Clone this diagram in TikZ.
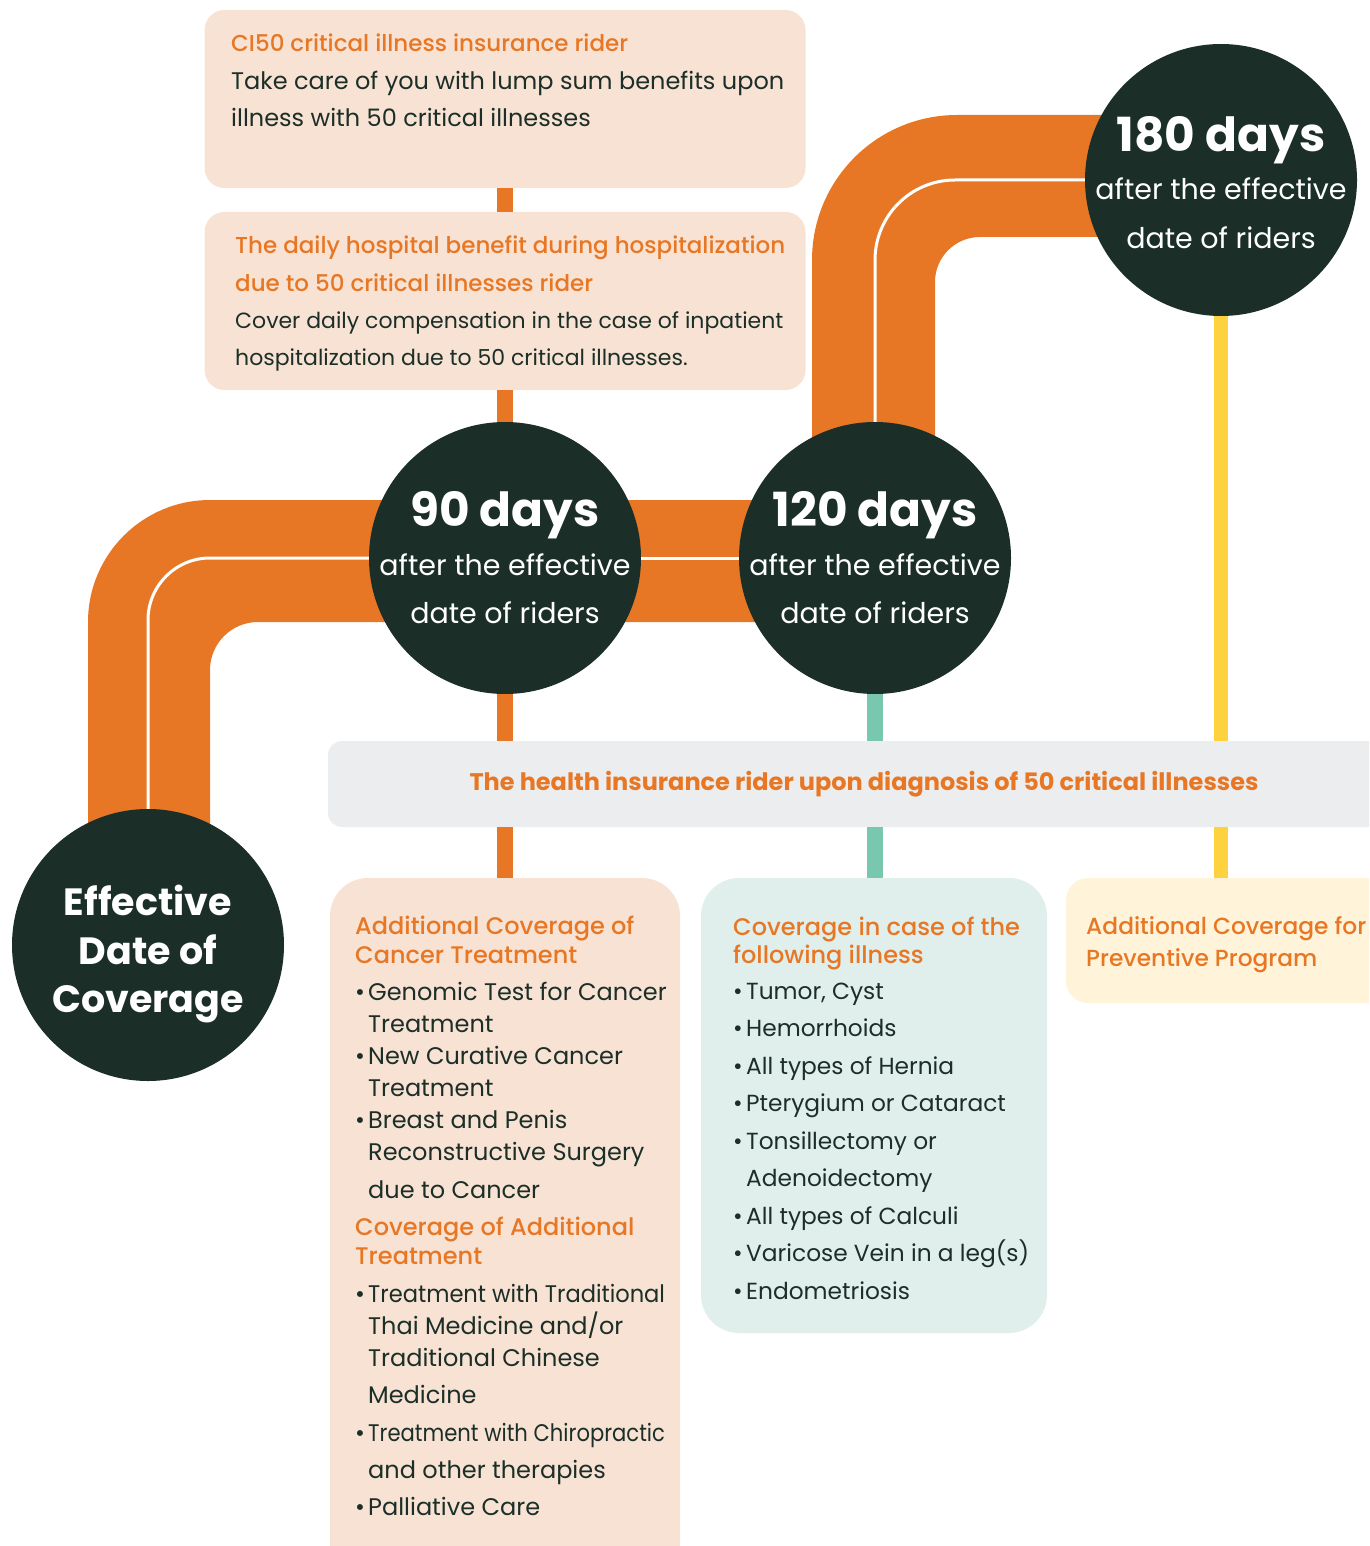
\documentclass[tikz,border=0pt]{standalone}
\usepackage{fontspec}
\setmainfont{Poppins}
\newfontfamily\medfont{Poppins Medium}
\usetikzlibrary{positioning}
\definecolor{pipeorange}{HTML}{E77724}
\definecolor{darkgreen}{HTML}{1B2F28}
\definecolor{peach}{HTML}{F8E2D3}
\definecolor{bandgray}{HTML}{ECEDEF}
\definecolor{mint}{HTML}{E1EFEC}
\definecolor{mintline}{HTML}{78C7AE}
\definecolor{cream}{HTML}{FFF4D9}
\definecolor{sunline}{HTML}{FDD23E}
\newcommand\headline[1]{{\color{pipeorange}\medfont #1}}
\newcommand\bul{\makebox[13pt][l]{\textbullet}}
\newcommand\indt{\hspace*{13pt}}
\newcommand\blk[1]{\parbox[t]{560pt}{\leavevmode#1}}
\begin{document}
\begin{tikzpicture}[x=1pt,y=-1pt,
  stop/.style={circle, fill=darkgreen, text=white, minimum size=272pt, inner sep=-20pt, align=center,
    font=\fontsize{28.5}{48.5}\selectfont},
  card/.style={rounded corners=20pt, fill=peach},
  body/.style={text=darkgreen, anchor=base west, inner sep=0pt},
  seam/.style={draw=white, line width=3pt},
  stem/.style={line width=16pt}]
\useasboundingbox (0,0) rectangle (1369,1546);
\clip (0,0) rectangle (1369,1546);

% pipes
\fill[pipeorange] (88,900) -- (88,622) arc[start angle=180,end angle=270,radius=122]
  -- (875,500) -- (875,622) -- (258,622) arc[start angle=270,end angle=180,radius=48]
  -- (210,900) -- cycle;
\fill[pipeorange] (812,560) -- (812,260) arc[start angle=180,end angle=270,radius=145]
  -- (1221,115) -- (1221,237) -- (980,237) arc[start angle=270,end angle=180,radius=45]
  -- (935,560) -- cycle;

\node[card, minimum width=601pt, minimum height=178pt] (ci50) at (505,99) {};
\node[card, minimum width=601pt, minimum height=178pt] (daily) at (505,301) {};
\node[rounded corners=14pt, fill=bandgray, minimum width=1072pt, minimum height=86pt] (band) at (864,784)
  {\fontsize{24}{28}\selectfont\color{pipeorange}\bfseries The health insurance rider upon diagnosis of 50 critical illnesses};
\node[card, rounded corners=38pt, minimum width=350pt, minimum height=702pt] (cancer) at (505,1229) {};
\node[card, rounded corners=38pt, fill=mint, minimum width=346pt, minimum height=455pt] (illness) at (874,1105.5) {};
\node[card, rounded corners=22pt, fill=cream, minimum width=334pt, minimum height=125pt] (prevent) at (1233,940.5) {};

\node[stop, font=\fontsize{38}{48.5}\selectfont\bfseries] (eff) at (148,945) {\rule{0pt}{49pt}Effective\\ Date of\\ Coverage};
\node[stop] (d90) at (505,558) {{\fontsize{47}{50}\selectfont\bfseries 90 days}\\ after the effective\\ date of riders};
\node[stop] (d120) at (875,558) {{\fontsize{47}{50}\selectfont\bfseries 120 days}\\ after the effective\\ date of riders};
\node[stop] (d180) at (1221,180) {{\fontsize{47}{50}\selectfont\bfseries\rule{0pt}{40pt}180 days}\\ after the effective\\ date of riders};

\draw[seam, rounded corners=62pt] (eff) |- (d90);
\draw[seam] (d90) -- (d120);
\draw[seam, rounded corners=80pt] (d120) |- (d180);

\draw[stem, pipeorange] (ci50) -- (daily);
\draw[stem, pipeorange] (daily) -- (d90);
\draw[stem, pipeorange] (d90) -- (band.north -| d90);
\draw[stem, pipeorange] (band.south -| d90) -- (cancer.north -| d90);
\draw[stem, mintline] (d120) -- (band.north -| d120);
\draw[stem, mintline] (band.south -| d120) -- (illness.north -| d120);
\draw[stem, sunline, line width=14pt] (d180) -- (band.north -| d180);
\draw[stem, sunline, line width=14pt] (band.south -| d180) -- (prevent.north -| d180);

\node[body, font=\fontsize{24}{37.5}\selectfont] (ci50txt) at (231,52)
  {\blk{{\fontsize{23}{37.5}\selectfont\headline{CI50 critical illness insurance rider}}\\
   Take care of you with lump sum benefits upon\\
   illness with 50 critical illnesses}};
\node[body, font=\fontsize{22}{37.3}\selectfont] (dailytxt) at (235,254)
  {\blk{{\fontsize{23}{37.3}\selectfont\headline{The daily hospital benefit during hospitalization}}\\
   {\fontsize{23}{37.3}\selectfont\headline{due to 50 critical illnesses rider}}\\
   Cover daily compensation in the case of inpatient\\
   hospitalization due to 50 critical illnesses.}};
\node[body, font=\fontsize{24}{32}\selectfont] (cancertxt) at (355,934)
  {\blk{\headline{Additional Coverage of}\\[-3pt]
   \headline{Cancer Treatment}\\[5pt]
   \bul Genomic Test for Cancer\\
   \indt Treatment\\
   \bul New Curative Cancer\\
   \indt Treatment\\
   \bul Breast and Penis\\
   \indt Reconstructive Surgery\\[6pt]
   \indt due to Cancer\\[5pt]
   \headline{Coverage of Additional}\\[-3pt]
   \headline{Treatment}\\[6pt]
   \bul \scalebox{0.94}[1]{Treatment with Traditional}\\
   \indt Thai Medicine and/or\\
   \indt Traditional Chinese\\[5pt]
   \indt Medicine\\[6pt]
   \bul \scalebox{0.88}[1]{Treatment with Chiropractic}\\[5pt]
   \indt and other therapies\\[5pt]
   \bul Palliative Care}};
\node[body, font=\fontsize{23.3}{37.5}\selectfont] (illnesstxt) at (733,935)
  {\blk{{\fontsize{24}{37.5}\selectfont\headline{Coverage in case of the}}\\[-9.5pt]
   {\fontsize{24}{37.5}\selectfont\headline{following illness}}\\[-1.5pt]
   \bul Tumor, Cyst\\
   \bul Hemorrhoids\\
   \bul All types of Hernia\\
   \bul Pterygium or Cataract\\
   \bul Tonsillectomy or\\
   \indt Adenoidectomy\\
   \bul All types of Calculi\\
   \bul Varicose Vein in a leg(s)\\
   \bul Endometriosis}};
\node[body, font=\fontsize{23.3}{32}\selectfont] (preventtxt) at (1086,934)
  {\blk{\headline{Additional Coverage for}\\
   \headline{Preventive Program}}};
\end{tikzpicture}
\end{document}
